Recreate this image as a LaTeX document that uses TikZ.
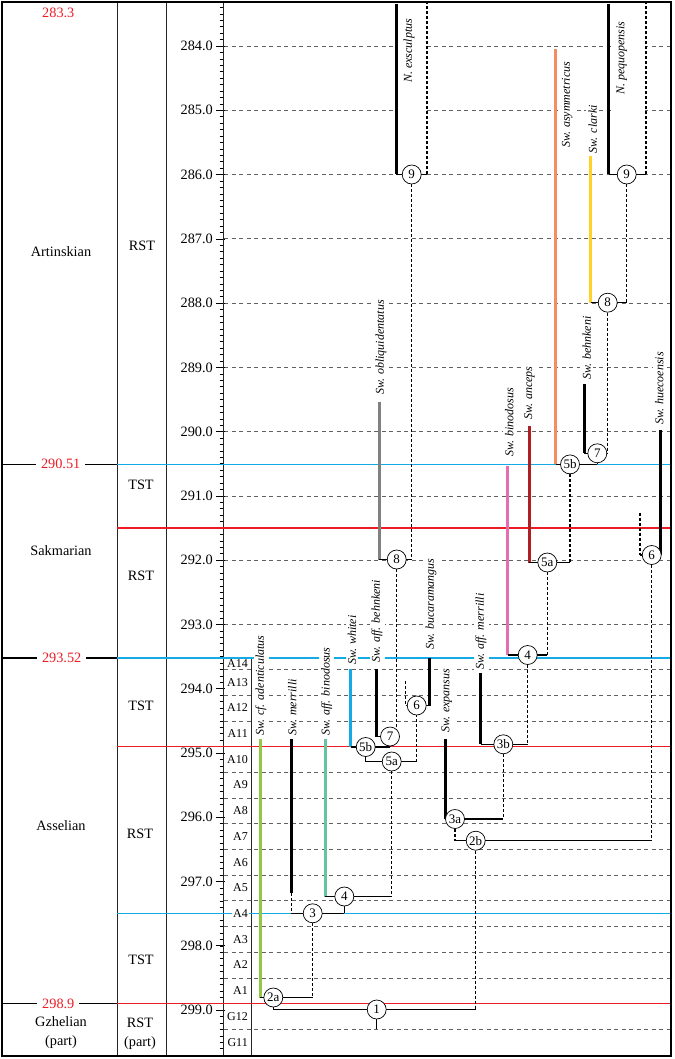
\documentclass[tikz,border=0pt]{standalone}
\usepackage{fontspec}
\setmainfont{Liberation Serif}
\definecolor{myred}{RGB}{237,28,36}
\definecolor{myblue}{RGB}{20,170,230}
\definecolor{cgreen}{RGB}{146,200,70}
\definecolor{cteal}{RGB}{100,196,160}
\definecolor{cgray}{RGB}{128,128,128}
\definecolor{cpink}{RGB}{228,110,178}
\definecolor{cdred}{RGB}{175,30,35}
\definecolor{corange}{RGB}{246,140,96}
\definecolor{cyellow}{RGB}{255,210,40}
\pgfdeclarelayer{back}
\pgfdeclarelayer{mid}
\pgfsetlayers{back,mid,main}
\begin{document}
\begin{tikzpicture}[x=1pt,y=-1pt,
  gridline/.style={draw=black!62, line width=0.65pt, dash pattern=on 4pt off 3.5pt},
  frameline/.style={draw=black!85, line width=0.8pt},
  stageline/.style={line width=1.5pt},
  seqline/.style={line width=1.6pt},
  taxbar/.style={line width=3pt},
  link/.style={line width=1.4pt},
  dlink/.style={line width=1.4pt, dash pattern=on 3pt off 2pt},
  nd/.style={circle, draw, line width=0.7pt, fill=white, minimum size=19pt, inner sep=0pt, font=\fontsize{13}{13}\selectfont},
  sp/.style={rotate=90, anchor=west, fill=white, inner sep=2pt, font=\fontsize{12}{12}\selectfont\itshape},
  lab/.style={font=\fontsize{14.3}{19}\selectfont, align=center},
  zone/.style={anchor=east, inner sep=1pt, fill=white, font=\fontsize{12}{12}\selectfont},
  age/.style={text=myred, fill=white, inner xsep=5pt, inner ysep=1pt, font=\fontsize{14.3}{14.3}\selectfont},
]
\useasboundingbox (0,0) rectangle (674,1059);

\begin{pgfonlayer}{back}
% grid
\foreach \t in {284,...,293} {
  \pgfmathsetmacro\yy{46+(\t-284)*64.27}
  \draw[gridline] (224,\yy) -- (671,\yy);
}
\foreach \t in {293.7,294.1,294.5,295.3,295.7,296.1,296.5,296.9,297.3,297.7,298.1,298.5,299.3} {
  \pgfmathsetmacro\yy{46+(\t-284)*64.27}
  \draw[gridline] (224,\yy) -- (671,\yy);
}
% ticks
\foreach \i in {1,...,163} {
  \pgfmathsetmacro\yy{1.0+\i*6.427}
  \draw[line width=0.5pt] (219.5,\yy) -- (224,\yy);
}
\foreach \t in {284,...,299} {
  \pgfmathsetmacro\yy{46+(\t-284)*64.27}
  \draw[line width=0.6pt] (216,\yy) -- (225,\yy);
  \node[anchor=east, inner sep=0pt, font=\fontsize{14.3}{14.3}\selectfont] (tk\t) at (213,\yy) {\t.0};
}
\fill[white] (398,3) rectangle (425.5,172);
\fill[white] (610.5,3) rectangle (644.5,172);

% frame
\draw[frameline] (117,2) -- (117,1056);
\draw[frameline] (166,2) -- (166,1056);
\draw[frameline] (223,2) -- (223,1056);
\draw[frameline] (251,657.85) -- (251,1056);

% stage boundaries
\draw[stageline] (2,464.4) -- (117,464.4);
\draw[stageline] (2,657.85) -- (117,657.85);
\draw[stageline] (2,1003.6) -- (117,1003.6);
\draw[seqline, myblue] (117,464.4) -- (671,464.4);
\draw[seqline, myred] (117,528) -- (671,528);
\draw[seqline, myblue] (117,657.85) -- (671,657.85);
\draw[seqline, myred] (117,746.5) -- (671,746.5);
\draw[seqline, myblue] (117,913.6) -- (671,913.6);
\draw[seqline, myred] (117,1003.6) -- (671,1003.6);

% left column labels
\node[age, fill=none] (a1) at (58.3,13.3) {283.3};
\node[age] (a2) at (60.7,463.5) {290.51};
\node[age] (a3) at (61.7,657.5) {293.52};
\node[age] (a4) at (58.3,1003.5) {298.9};
\node[lab] (s1) at (61,251.7) {Artinskian};
\node[lab] (s2) at (61,551) {Sakmarian};
\node[lab] (s3) at (61,826) {Asselian};
\node[lab] (s4) at (61,1032.5) {Gzhelian\\(part)};
\node[lab] (t1) at (142,246) {RST};
\node[lab] (t2) at (141,485) {TST};
\node[lab] (t3) at (141,575.7) {RST};
\node[lab] (t4) at (141,706) {TST};
\node[lab] (t5) at (140,834) {RST};
\node[lab] (t6) at (141,960) {TST};
\node[lab] (t7) at (140,1034) {RST\\(part)};

% zones
\node[zone] (zA14) at (249,663.6) {A14};
\node[zone] (zA13) at (249,682.2) {A13};
\node[zone] (zA12) at (249,708) {A12};
\node[zone] (zA11) at (249,733.6) {A11};
\node[zone] (zA10) at (249,759.4) {A10};
\node[zone] (zA9) at (249,785) {A9};
\node[zone] (zA8) at (249,810.8) {A8};
\node[zone] (zA7) at (249,836.5) {A7};
\node[zone] (zA6) at (249,862.2) {A6};
\node[zone] (zA5) at (249,888) {A5};
\node[zone] (zA4) at (249,913.6) {A4};
\node[zone] (zA3) at (249,939.3) {A3};
\node[zone] (zA2) at (249,965) {A2};
\node[zone] (zA1) at (249,990.7) {A1};
\node[zone] (zG12) at (249,1016.4) {G12};
\node[zone] (zG11) at (249,1042.7) {G11};

% species labels
\node[sp] (lexs) at (409,85) {N. exsculptus};
\node[sp] (lpeq) at (621.7,97) {N. pequopensis};
\node[sp] (lasy) at (567.3,150) {Sw. asymmetricus};
\node[sp] (lcla) at (592.7,155.5) {Sw. clarki};
\node[sp] (lbeh) at (586.7,382) {Sw. behnkeni};
\node[sp] (lobl) at (381,397) {Sw. obliquidentatus};
\node[sp] (lbin) at (509.3,459) {Sw. binodosus};
\node[sp] (lanc) at (529.5,422) {Sw. anceps};
\node[sp] (lhue) at (659.3,427) {Sw. huecoensis};
\node[sp] (lbuc) at (431,652) {Sw. bucaramangus};
\node[sp] (labe) at (377,665) {Sw. aff. behnkeni};
\node[sp] (lwhi) at (352,667) {Sw. whitei};
\node[sp] (lame) at (481,672) {Sw. aff. merrilli};
\node[sp] (lexp) at (446.7,735) {Sw. expansus};
\node[sp] (lade) at (261,738) {Sw. cf. adenticulatus};
\node[sp] (lmer) at (292.3,738) {Sw. merrilli};
\node[sp] (labi) at (326.7,738) {Sw. aff. binodosus};
\end{pgfonlayer}

% outer frame
\draw[line width=1.6pt] (2,2) rectangle (671,1056);

% ---------- circles ----------
\node[nd] (c9u) at (626.7,174.5) {9};
\node[nd] (c8u) at (607.7,302.7) {8};
\node[nd] (c7u) at (597.3,453.3) {7};
\node[nd] (c5bu) at (570,464.4) {5b};
\node[nd] (c5au) at (547.3,562.5) {5a};
\node[nd] (c4u) at (527.7,655) {4};
\node[nd] (c3b) at (503.3,744.3) {3b};
\node[nd] (c3a) at (455,819) {3a};
\node[nd] (c2b) at (475.7,840.7) {2b};
\node[nd] (c6u) at (651.7,555) {6};
\node[nd] (c9l) at (411.7,174.5) {9};
\node[nd] (c8l) at (396.7,559.5) {8};
\node[nd] (c7l) at (390,736.5) {7};
\node[nd] (c5bl) at (365.7,747) {5b};
\node[nd] (c5al) at (391.7,761.5) {5a};
\node[nd] (c6l) at (416.7,705.5) {6};
\node[nd] (c4l) at (344.3,896.5) {4};
\node[nd] (c3) at (312.7,913.3) {3};
\node[nd] (c2a) at (273.3,997.5) {2a};
\node[nd] (c1) at (376.7,1009.5) {1};

% ---------- coordinates ----------
\coordinate (pequT) at (608.7,4);   \coordinate (pequB) at (608.7,174.5);
\coordinate (r9u) at (646,174.5);    \coordinate (r9uT) at (646,2.8);
\coordinate (clarT) at (590.7,155.7); \coordinate (clarB) at (590.7,302.7);
\coordinate (r8u) at (626.7,302.7);
\coordinate (behT) at (584,384.3);   \coordinate (behB) at (584,453.3);
\coordinate (r7u) at (607.7,453.3);
\coordinate (asyT) at (555.7,49);    \coordinate (asyB) at (555.7,464.4);
\coordinate (r5bu) at (597.3,464.4);
\coordinate (ancT) at (529,426);     \coordinate (ancB) at (529,562.5);
\coordinate (r5au) at (570,562.5);
\coordinate (binT) at (507.7,465.7); \coordinate (binB) at (507.7,655);
\coordinate (r4u) at (547.3,655);
\coordinate (amT) at (480.7,673.3);  \coordinate (amB) at (480.7,744.3);
\coordinate (r3b) at (527.7,744.3);
\coordinate (expT) at (445.7,739.3); \coordinate (expB) at (445.7,819);
\coordinate (r3a) at (503.3,819);
\coordinate (l2b) at (455,840.7);    \coordinate (r2b) at (651.7,840.7);
\coordinate (hueT) at (660.7,430);   \coordinate (hueB) at (660.7,555);
\coordinate (hueS) at (640,512.7);   \coordinate (hueSB) at (640,555);
\coordinate (exsT) at (396,4);       \coordinate (exsB) at (396,174.5);
\coordinate (r9l) at (427,174.5);    \coordinate (r9lT) at (427,2.8);
\coordinate (oblT) at (379.3,401.7); \coordinate (oblB) at (379.3,559.5);
\coordinate (r8l) at (411.7,559.5);
\coordinate (abT) at (376.7,669);    \coordinate (abB) at (376.7,736.5);
\coordinate (r7l) at (396.7,736.5);
\coordinate (whT) at (350.7,669);    \coordinate (whB) at (350.7,747);
\coordinate (r5bl) at (390,747);
\coordinate (l5al) at (365.7,761.5); \coordinate (r5al) at (416.7,761.5);
\coordinate (bucT) at (429,657.85);  \coordinate (bucB) at (429,705.5);
\coordinate (bucS) at (405.7,681);   \coordinate (bucSB) at (405.7,705.5);
\coordinate (abiT) at (325.3,739);   \coordinate (abiB) at (325.3,896.5);
\coordinate (r4l) at (391.7,896.5);
\coordinate (merT) at (291.7,739);   \coordinate (merB) at (291.7,893);
\coordinate (l3) at (291.7,913.3);   \coordinate (r3) at (344.3,913.3);
\coordinate (adT) at (260,739);      \coordinate (adB) at (260,997.5);
\coordinate (r2a) at (312.7,997.5);
\coordinate (l1) at (273.3,1009.5);  \coordinate (r1) at (475.7,1009.5);
\coordinate (c1S) at (376.7,1029.3);

\begin{pgfonlayer}{mid}
% bars
\draw[taxbar] (pequT) -- (pequB);
\draw[taxbar, cyellow] (clarT) -- (clarB);
\draw[taxbar] (behT) -- (behB);
\draw[taxbar, corange] (asyT) -- (asyB);
\draw[taxbar, cdred] (ancT) -- (ancB);
\draw[taxbar, cpink] (binT) -- (binB);
\draw[taxbar] (amT) -- (amB);
\draw[taxbar] (expT) -- (expB);
\draw[taxbar] (hueT) -- (hueB);
\draw[taxbar] (exsT) -- (exsB);
\draw[taxbar, cgray] (oblT) -- (oblB);
\draw[taxbar] (abT) -- (abB);
\draw[taxbar, myblue] (whT) -- (whB);
\draw[taxbar] (bucT) -- (bucB);
\draw[taxbar, cteal] (abiT) -- (abiB);
\draw[taxbar] (merT) -- (merB);
\draw[taxbar, cgreen] (adT) -- (adB);

% links
\draw[link] (pequB) -- (r9u);   \draw[dlink] (r9u) -- (r9uT);
\draw[link] (clarB) -- (r8u);   \draw[dlink] (c9u) -- (r8u);
\draw[link] (behB) -- (r7u);    \draw[dlink] (c8u) -- (r7u);
\draw[link] (asyB) -- (r5bu);   \draw[link] (r5bu) -- (c7u);
\draw[link] (ancB) -- (r5au);   \draw[dlink] (c5bu) -- (r5au);
\draw[link] (binB) -- (r4u);    \draw[dlink] (c5au) -- (r4u);
\draw[link] (amB) -- (r3b);     \draw[dlink] (c4u) -- (r3b);
\draw[link] (expB) -- (r3a);    \draw[dlink] (c3b) -- (r3a);
\draw[link] (l2b) -- (r2b);     \draw[dlink] (c3a) -- (l2b);
\draw[link] (hueSB) -- (hueB);  \draw[dlink] (hueS) -- (hueSB);
\draw[dlink] (c6u) -- (r2b);
\draw[link] (exsB) -- (r9l);    \draw[dlink] (r9l) -- (r9lT);
\draw[link] (oblB) -- (r8l);    \draw[dlink] (c9l) -- (r8l);
\draw[link] (abB) -- (r7l);     \draw[dlink] (c8l) -- (r7l);
\draw[link] (whB) -- (r5bl);    \draw[link] (r5bl) -- (c7l);
\draw[link] (l5al) -- (r5al);   \draw[link] (c5bl) -- (l5al);
\draw[dlink] (r5al) -- (c6l);
\draw[link] (bucSB) -- (bucB);  \draw[dlink] (bucS) -- (bucSB);
\draw[link] (abiB) -- (r4l);    \draw[dlink] (c5al) -- (r4l);
\draw[dlink] (merB) -- (l3);    \draw[link] (l3) -- (r3);
\draw[link] (c4l) -- (r3);
\draw[link] (adB) -- (r2a);     \draw[dlink] (c3) -- (r2a);
\draw[link] (l1) -- (r1);       \draw[link] (c2a) -- (l1);
\draw[dlink] (c2b) -- (r1);     \draw[link] (c1) -- (c1S);
\end{pgfonlayer}
\end{tikzpicture}
\end{document}
